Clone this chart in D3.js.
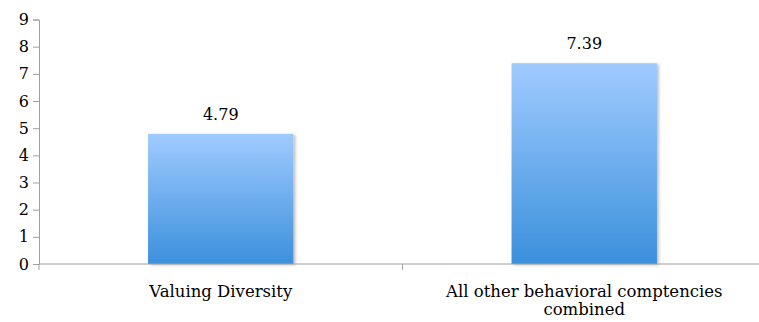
<!DOCTYPE html>
<html lang="en">
<head>
<meta charset="UTF-8">
<script src="https://d3js.org/d3.v7.min.js"></script>
<style>
    body { margin: 0; background: #fff; }
    svg { display: block; }
    .tick text { font-family: "DejaVu Serif", serif; font-size: 16px; fill: #000; }
    .lbl { font-family: "DejaVu Serif", serif; fill: #000; }
</style>
</head>
<body>
<svg id="chart" width="759" height="322"></svg>
<script>
    const categories = ["Valuing Diversity", "All other behavioral comptencies combined"];
    const values = [4.79, 7.39];
    const yTicks = [0, 1, 2, 3, 4, 5, 6, 7, 8, 9];

    const svg = d3.select("#chart");
    const plotLeft = 39, plotBottom = 264, plotTop = 19.5, plotRight = 766;

    const x = d3.scaleBand()
        .domain(categories)
        .range([plotLeft, plotRight])
        .paddingInner(0.6)
        .paddingOuter(0.3);

    const y = d3.scaleLinear()
        .domain([0, 9])
        .range([plotBottom, plotTop]);

    const defs = svg.append("defs");
    const grad = defs.append("linearGradient")
        .attr("id", "barGrad")
        .attr("x1", 0).attr("y1", 0).attr("x2", 0).attr("y2", 1);
    grad.append("stop").attr("offset", "0%").attr("stop-color", "#a0cbff");
    grad.append("stop").attr("offset", "100%").attr("stop-color", "#3b90dc");

    const shadow = defs.append("filter").attr("id", "shadow")
        .attr("x", "-10%").attr("y", "-10%").attr("width", "130%").attr("height", "130%");
    shadow.append("feDropShadow")
        .attr("dx", 2).attr("dy", 1).attr("stdDeviation", 1.5)
        .attr("flood-color", "#000").attr("flood-opacity", 0.25);

    // y axis
    const yAxis = svg.append("g")
        .attr("transform", "translate(" + plotLeft + ",0)")
        .call(d3.axisLeft(y).tickValues(yTicks).tickSize(6).tickPadding(4));
    yAxis.selectAll("line, path").attr("stroke", "#a0a0a0");

    // bars
    svg.selectAll(".bar")
        .data(values)
        .enter().append("rect")
        .attr("class", "bar")
        .attr("x", (d, i) => x(categories[i]))
        .attr("width", x.bandwidth())
        .attr("y", d => y(d))
        .attr("height", d => y(0) - y(d))
        .attr("fill", "url(#barGrad)")
        .attr("filter", "url(#shadow)");

    // value labels
    svg.selectAll(".val")
        .data(values)
        .enter().append("text")
        .attr("class", "lbl")
        .attr("x", (d, i) => x(categories[i]) + x.bandwidth() / 2)
        .attr("y", d => y(d) - 14)
        .attr("text-anchor", "middle")
        .style("font-size", "16px")
        .text(d => d.toFixed(2));

    // x axis
    const xAxis = svg.append("g")
        .attr("transform", "translate(0," + plotBottom + ")");
    xAxis.append("line")
        .attr("x1", plotLeft).attr("x2", plotRight)
        .attr("stroke", "#a0a0a0");
    const step = x.step();
    [plotLeft, plotLeft + step, plotLeft + 2 * step].forEach(function(p) {
        xAxis.append("line")
            .attr("x1", p).attr("x2", p)
            .attr("y1", 0).attr("y2", 6)
            .attr("stroke", "#a0a0a0");
    });

    // category labels, wrapped
    const wrapped = [["Valuing Diversity"], ["All other behavioral comptencies", "combined"]];
    categories.forEach(function(c, i) {
        const t = svg.append("text")
            .attr("class", "lbl")
            .attr("x", x(c) + x.bandwidth() / 2)
            .attr("y", plotBottom + 33)
            .attr("text-anchor", "middle")
            .style("font-size", "16.5px");
        wrapped[i].forEach(function(line, j) {
            t.append("tspan")
                .attr("x", x(c) + x.bandwidth() / 2)
                .attr("dy", j === 0 ? 0 : 18)
                .text(line);
        });
    });
</script>
</body>
</html>
